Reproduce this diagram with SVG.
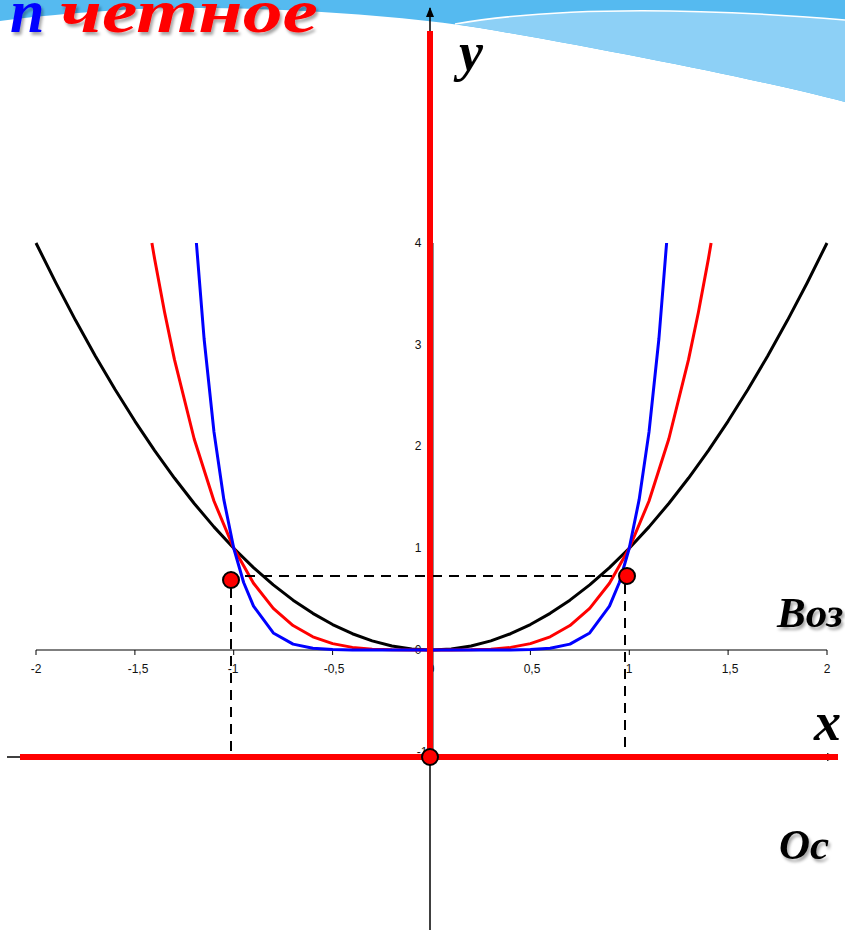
<svg xmlns="http://www.w3.org/2000/svg" width="845" height="930" viewBox="0 0 845 930">
<defs>
<style>
.tick{font-family:"Liberation Sans",Arial,sans-serif;font-size:12px;fill:#111}
.big{font-family:"Liberation Serif","Times New Roman",serif;font-weight:bold;font-style:italic;fill:#000}
.curve{fill:none;stroke-width:3;stroke-linejoin:round}
.dash{stroke:#000;stroke-width:2;stroke-dasharray:10,7;fill:none}
.dot{fill:#ff0000;stroke:#000;stroke-width:2}
.redaxis{stroke:#ff0000;stroke-width:6}
</style>
<filter id="sh" x="-10%" y="-10%" width="130%" height="140%">
<feDropShadow dx="2" dy="3" stdDeviation="1.5" flood-color="#000" flood-opacity="0.35"/>
</filter>
<marker id="arr" markerWidth="10" markerHeight="10" refX="9" refY="5" orient="auto" markerUnits="userSpaceOnUse">
<path d="M0,1 L10,5 L0,9 Z" fill="#000"/>
</marker>
</defs>
<g id="background">
<rect x="0" y="0" width="845" height="930" fill="#ffffff"/>
<path d="M0,0 L845,0 L845,102 C760,80 620,52 480,28 C380,12 220,4 120,10 C70,13 30,17 0,21 Z" fill="#55baf0"/>
<path d="M455,24 C560,6 700,8 845,20 L845,102 C760,80 620,52 480,28 Z" fill="#8dd0f6"/>
<path d="M455,24 C560,6 700,8 845,20" fill="none" stroke="#ffffff" stroke-width="1.5"/>
</g>
<g id="title" filter="url(#sh)">
<text class="big" x="10" y="32" font-size="62" style="fill:#0000ff">n</text>
<text class="big" x="60" y="32" font-size="62" textLength="258" lengthAdjust="spacingAndGlyphs" style="fill:#ff0000">четное</text>
</g>
<g id="graph-axes">
<line x1="36" y1="650" x2="827" y2="650" stroke="#000" stroke-width="1.2"/>
<path d="M36,650v5M134.9,650v5M233.7,650v5M332.6,650v5M431.5,650v5M530.4,650v5M629.3,650v5M728.1,650v5M827,650v5" stroke="#000" stroke-width="1"/>
<line x1="433" y1="243" x2="433" y2="752" stroke="#444" stroke-width="1.2"/>
<text class="tick" x="36" y="673" text-anchor="middle">-2</text>
<text class="tick" x="138" y="673" text-anchor="middle">-1,5</text>
<text class="tick" x="233" y="673" text-anchor="middle">-1</text>
<text class="tick" x="334" y="673" text-anchor="middle">-0,5</text>
<text class="tick" x="431" y="673" text-anchor="middle">0</text>
<text class="tick" x="532" y="673" text-anchor="middle">0,5</text>
<text class="tick" x="629" y="673" text-anchor="middle">1</text>
<text class="tick" x="730" y="673" text-anchor="middle">1,5</text>
<text class="tick" x="827" y="673" text-anchor="middle">2</text>
<text class="tick" x="418" y="247" text-anchor="middle">4</text>
<text class="tick" x="418" y="349" text-anchor="middle">3</text>
<text class="tick" x="418" y="450" text-anchor="middle">2</text>
<text class="tick" x="418" y="552" text-anchor="middle">1</text>
<text class="tick" x="418" y="654" text-anchor="middle">0</text>
<text class="tick" x="422" y="756" text-anchor="middle" font-size="9">-1</text>
</g>
<g id="connectors">
<polyline class="curve" stroke="#000" points="36,243 55.77,282.68 75.55,320.33 95.32,355.94 115.1,389.52 134.87,421.06 154.65,450.57 174.42,478.04 194.2,503.48 213.97,526.88 233.75,548.25 253.52,567.58 273.3,584.88 293.07,600.14 312.85,613.37 332.62,624.56 352.4,633.72 372.17,640.84 391.95,645.93 411.72,648.98 431.5,650 451.28,648.98 471.05,645.93 490.83,640.84 510.6,633.72 530.38,624.56 550.15,613.37 569.93,600.14 589.7,584.88 609.48,567.58 629.25,548.25 649.03,526.88 668.8,503.48 688.58,478.04 708.35,450.57 728.13,421.06 747.9,389.52 767.68,355.94 787.45,320.33 807.23,282.68 827,243"/>
<polyline class="curve" stroke="#ff0000" points="151.9,243 154.65,259.12 164.54,312.04 174.42,359.39 194.2,439.01 213.97,501.03 233.75,548.25 253.52,583.24 273.3,608.32 293.07,625.57 312.85,636.81 332.62,643.64 352.4,647.4 372.17,649.18 391.95,649.84 411.72,649.99 431.5,650 451.28,649.99 471.05,649.84 490.83,649.18 510.6,647.4 530.38,643.64 550.15,636.81 569.93,625.57 589.7,608.32 609.48,583.24 629.25,548.25 649.03,501.03 668.8,439.01 688.58,359.39 698.46,312.04 708.35,259.12 711.1,243"/>
<polyline class="curve" stroke="#0000ff" points="196.4,243 204.09,338.75 213.97,431.89 223.86,499.67 233.75,548.25 243.64,582.5 253.52,606.2 273.3,632.93 293.07,644.14 312.85,648.29 332.62,649.6 352.4,649.93 372.17,650 391.95,650 411.72,650 431.5,650 451.28,650 471.05,650 490.83,650 510.6,649.93 530.38,649.6 550.15,648.29 569.93,644.14 589.7,632.93 609.48,606.2 619.36,582.5 629.25,548.25 639.14,499.67 649.03,431.89 658.91,338.75 666.6,243"/>
<line class="dash" x1="245" y1="576" x2="616" y2="576"/>
<line class="dash" x1="231" y1="588" x2="231" y2="752"/>
<line class="dash" x1="625" y1="584" x2="625" y2="754"/>
<line x1="430" y1="930" x2="430" y2="8" stroke="#000" stroke-width="1.5" marker-end="url(#arr)"/>
<line x1="7" y1="757" x2="836" y2="757" stroke="#000" stroke-width="1.5" marker-end="url(#arr)"/>
<line class="redaxis" x1="430" y1="31" x2="430" y2="757"/>
<line class="redaxis" x1="20" y1="757" x2="838" y2="757"/>
</g>
<g id="point-left"><circle class="dot" cx="231" cy="580" r="8"/></g>
<g id="point-right"><circle class="dot" cx="627" cy="576" r="8"/></g>
<g id="point-origin"><circle class="dot" cx="430" cy="757" r="8"/></g>
<g id="labels">
<text class="big" x="459" y="70" font-size="54">y</text>
<text class="big" x="814" y="740" font-size="54">x</text>
<g filter="url(#sh)">
<text class="big" x="777" y="627" font-size="43">Воз</text>
<text class="big" x="779" y="859" font-size="43">Ос</text>
</g>
</g>
</svg>
